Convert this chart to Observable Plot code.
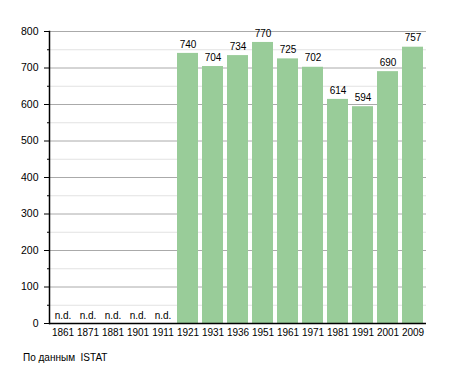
<!DOCTYPE html>
<html>
<head>
<meta charset="utf-8">
<script src="https://cdn.jsdelivr.net/npm/d3@7"></script>
<script src="https://cdn.jsdelivr.net/npm/@observablehq/plot@0.6"></script>
<style>
  body { margin: 0; background: #fff; font-family: "Liberation Sans", Arial, sans-serif; }
  #wrap { position: relative; width: 455px; height: 373px; }
  #caption { position: absolute; left: 23px; top: 352px; font-size: 10px; color: #000; font-family: "Liberation Sans", Arial, sans-serif; }
</style>
</head>
<body>
<div id="wrap"><div id="chart"></div><div id="caption">По данным&nbsp; ISTAT</div></div>
<script>
const years = ["1861","1871","1881","1901","1911","1921","1931","1936","1951","1961","1971","1981","1991","2001","2009"];
const population = [null,null,null,null,null,740,704,734,770,725,702,614,594,690,757];
const majorTicks = [0,100,200,300,400,500,600,700,800];
const minorTicks = [50,150,250,350,450,550,650,750];
const missingLabel = "n.d.";

const data = years.map((y, i) => ({year: y, value: population[i]}));
const known = data.filter(d => d.value != null);
const missing = data.filter(d => d.value == null);

const chart = Plot.plot({
  width: 455,
  height: 345,
  marginLeft: 49,
  marginRight: 29,
  marginTop: 31,
  marginBottom: 22,
  style: {fontFamily: "Liberation Sans, Arial, sans-serif", background: "#fff"},
  x: {domain: years, paddingInner: 0.175, paddingOuter: 0, axis: null},
  y: {domain: [0, 800], axis: null},
  marks: [
    Plot.ruleY(minorTicks, {stroke: "#e2e2e2", strokeWidth: 1}),
    Plot.ruleY(majorTicks.filter(t => t > 0), {stroke: "#aaaaaa", strokeWidth: 1}),
    Plot.barY(known, {x: "year", y: "value", fill: "#99cc99"}),
    Plot.text(known, {x: "year", y: "value", text: d => String(d.value), dy: -9, fontSize: 10, fill: "#000"}),
    Plot.text(missing, {x: "year", y: 0, text: () => missingLabel, dy: -8, fontSize: 10, fill: "#000"}),
    Plot.frame({anchor: "left", stroke: "#000", strokeWidth: 1.5}),
    Plot.axisY({ticks: minorTicks, tickSize: 2, tickFormat: () => "", stroke: "#000", label: null}),
    Plot.axisY({ticks: majorTicks, tickSize: 5, tickPadding: 6, fontSize: 10.5, fill: "#000", stroke: "#000", label: null}),
    Plot.axisX({tickSize: 0, tickPadding: 5, fontSize: 10, fill: "#000", label: null}),
    Plot.ruleY([0], {stroke: "#000", strokeWidth: 1.5})
  ]
});
document.getElementById("chart").appendChild(chart);
</script>
</body>
</html>
